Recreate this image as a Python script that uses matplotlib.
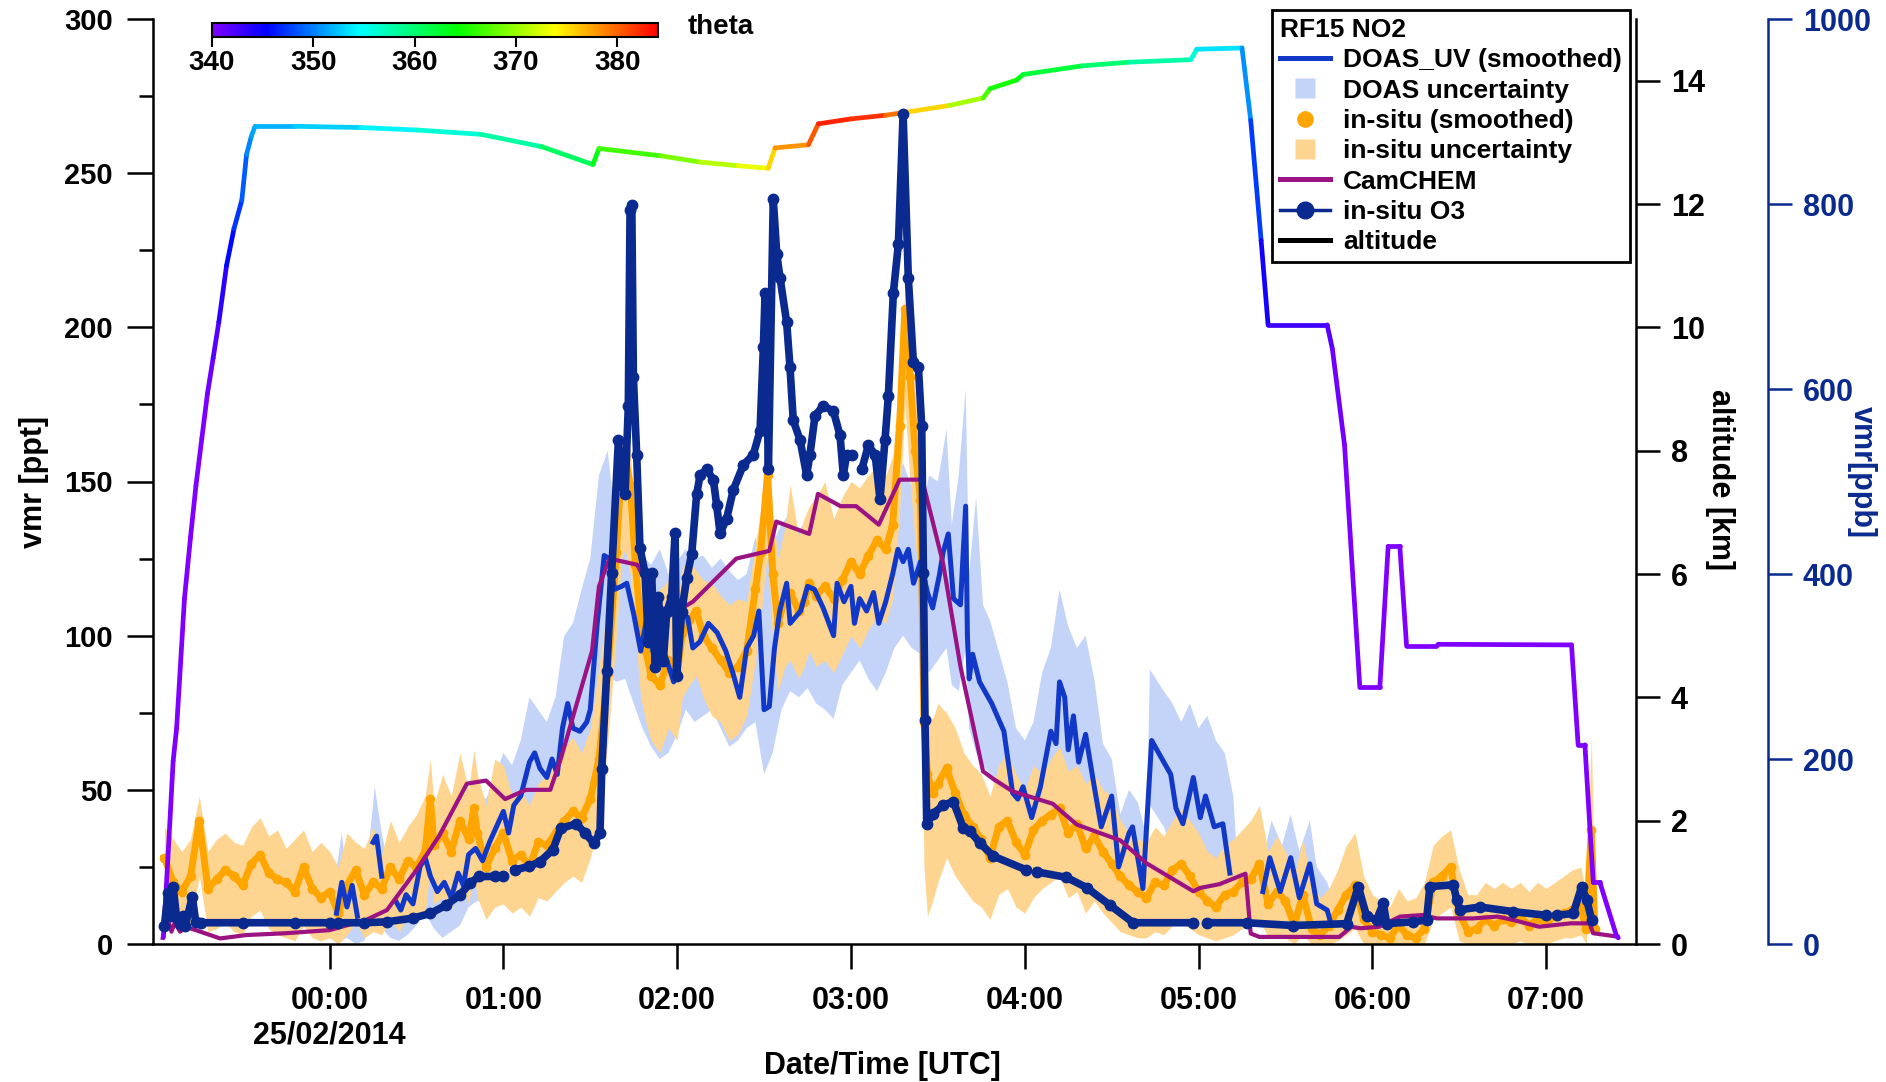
import numpy as np
import matplotlib
matplotlib.use('Agg')
import matplotlib.pyplot as plt
from matplotlib.collections import LineCollection
from matplotlib.colors import LinearSegmentedColormap, Normalize
from matplotlib.lines import Line2D
import matplotlib.cm as cm

plt.rcParams['font.family'] = ['Liberation Sans', 'DejaVu Sans']
plt.rcParams['font.weight'] = 'bold'

nan = np.nan

# time axis: hours after 00:00 UTC, 25/02/2014
hour_ticks = [0, 1, 2, 3, 4, 5, 6, 7]
hour_labels = ['00:00\n25/02/2014', '01:00', '02:00', '03:00', '04:00', '05:00', '06:00', '07:00']
theta_ticks = [340, 350, 360, 370, 380]

# in-situ NO2 (smoothed) and its uncertainty range [ppt]
insitu_t = [-0.95, -0.90, -0.85, -0.80, -0.75, -0.70, -0.65, -0.60, -0.55, -0.50,
            -0.45, -0.40, -0.35, -0.30, -0.25, -0.20, -0.15, -0.10, -0.05, 0.00,
            0.05, 0.10, 0.15, 0.20, 0.25, 0.30, 0.35, 0.40, 0.45, 0.50,
            0.55, 0.58, 0.60, 0.65, 0.70, 0.75, 0.80, 0.83, 0.85, 0.90,
            0.95, 1.00, 1.05, 1.10, 1.15, 1.20, 1.25, 1.30, 1.35, 1.40,
            1.45, 1.50, 1.55, 1.60, 1.65, 1.68, 1.70, 1.73, 1.76, 1.79,
            1.82, 1.85, 1.90, 1.95, 2.00, 2.03, 2.07, 2.11, 2.15, 2.20,
            2.25, 2.30, 2.35, 2.40, 2.45, 2.48, 2.52, 2.55, 2.58, 2.62,
            2.65, 2.70, 2.73, 2.76, 2.80, 2.85, 2.90, 2.95, 3.00, 3.05,
            3.10, 3.15, 3.20, 3.24, 3.28, 3.31, 3.34, 3.37, 3.40, 3.42,
            3.44, 3.47, 3.50, 3.55, 3.60, 3.65, 3.70, 3.75, 3.80, 3.85,
            3.90, 3.95, 4.00, 4.05, 4.10, 4.15, 4.20, 4.25, 4.30, 4.35,
            4.40, 4.45, 4.50, 4.55, 4.60, 4.65, 4.70, 4.75, 4.80, 4.85,
            4.90, 4.95, 5.00, 5.05, 5.10, 5.15, 5.20, 5.25, 5.30, 5.35,
            5.40, 5.45, 5.50, 5.55, 5.60, 5.65, 5.70, 5.75, 5.80, 5.85,
            5.90, 5.95, 6.00, 6.05, 6.10, 6.15, 6.20, 6.25, 6.30, 6.35,
            6.40, 6.45, 6.50, 6.55, 6.60, 6.65, 6.70, 6.75, 6.80, 6.85,
            6.90, 6.95, 7.00, 7.05, 7.10, 7.15, 7.20, 7.23, 7.26, 7.28]
insitu_ppt = [28, 20, 17, 22, 40, 18, 21, 24, 22, 19,
              26, 29, 23, 21, 20, 17, 25, 18, 15, 17,
              10, 19, 24, 16, 20, 18, 25, 21, 27, 25,
              30, 47, 32, 36, 30, 40, 34, 44, 36, 25,
              31, 36, 27, 29, 25, 33, 32, 36, 40, 43,
              41, 47, 60, 88, 127, 155, 158, 149, 123, 104,
              95, 87, 84, 92, 88, 101, 105, 108, 100, 96,
              92, 88, 90, 95, 115, 127, 152, 120, 104, 112,
              114, 108, 111, 117, 113, 116, 112, 118, 124, 120,
              126, 131, 128, 136, 168, 206, 184, 160, 144, 72,
              55, 49, 52, 57, 49, 42, 38, 34, 28, 38,
              40, 33, 29, 37, 40, 42, 44, 36, 39, 31,
              35, 30, 26, 22, 19, 17, 15, 20, 19, 24,
              26, 22, 17, 14, 12, 16, 17, 20, 21, 26,
              13, 17, 14, 6, 16, 5, 3, 6, 11, 16,
              19, 8, 4, 3, 2, 6, 3, 2, 5, 20,
              22, 25, 10, 4, 5, 8, 6, 8, 7, 9,
              6, 8, 7, 9, 10, 11, 12, 5, 37, 5]
insitu_lo = [14, 8, 4, 6, 22, 4, 5, 7, 4, 3,
             9, 11, 5, 3, 2, 1, 6, 2, 1, 2,
             0, 3, 7, 2, 4, 3, 8, 4, 9, 7,
             10, 25, 13, 15, 11, 20, 13, 23, 15, 8,
             12, 13, 10, 12, 9, 15, 14, 17, 20, 22,
             20, 28, 38, 65, 100, 125, 128, 120, 100, 80,
             72, 66, 62, 70, 66, 80, 84, 87, 80, 74,
             72, 66, 68, 74, 92, 105, 128, 98, 82, 90,
             92, 86, 90, 95, 90, 92, 88, 94, 100, 96,
             102, 106, 104, 112, 140, 175, 150, 130, 115, 25,
             9, 14, 20, 28, 22, 18, 14, 12, 8, 16,
             18, 12, 10, 15, 18, 20, 22, 15, 17, 10,
             14, 10, 7, 4, 3, 2, 2, 4, 3, 6,
             8, 5, 3, 2, 1, 2, 3, 5, 6, 8,
             2, 3, 2, 0, 3, 0, 0, 0, 1, 3,
             5, 0, 0, 0, 0, 0, 0, 0, 0, 8,
             10, 12, 1, 0, 0, 0, 0, 0, 0, 1,
             0, 0, 0, 1, 2, 2, 3, 0, 20, 0]
insitu_hi = [38, 34, 30, 34, 48, 30, 34, 36, 33, 32,
             38, 41, 35, 37, 31, 34, 37, 30, 33, 30,
             25, 36, 33, 31, 38, 29, 40, 33, 38, 42,
             48, 60, 45, 55, 48, 62, 50, 63, 55, 45,
             60, 58, 48, 50, 45, 52, 55, 60, 64, 67,
             62, 70, 90, 110, 145, 162, 165, 160, 135, 120,
             112, 108, 115, 118, 110, 122, 125, 121, 118, 117,
             113, 110, 112, 111, 130, 140, 171, 140, 125, 135,
             149, 132, 138, 142, 145, 150, 138, 145, 150, 148,
             152, 155, 152, 158, 185, 212, 200, 178, 160, 100,
             75, 73, 78, 75, 70, 62, 58, 55, 48, 58,
             62, 55, 50, 58, 55, 60, 64, 56, 58, 52,
             55, 50, 48, 40, 36, 34, 33, 38, 35, 40,
             44, 40, 36, 30, 28, 32, 34, 37, 40, 45,
             30, 35, 30, 22, 34, 20, 15, 18, 24, 32,
             36, 22, 16, 14, 12, 18, 14, 15, 20, 32,
             35, 37, 24, 16, 16, 20, 18, 20, 18, 20,
             17, 20, 18, 20, 22, 24, 25, 16, 68, 12]

# DOAS_UV NO2 (smoothed) [ppt], nan = no data
doas_t = [0.04, 0.07, 0.10, 0.13, 0.16, 0.19,
          0.25, 0.27, 0.30, 0.33,
          0.38, 0.41, 0.44, 0.48, 0.52, 0.55, 0.58, 0.62, 0.66, 0.70,
          0.74, 0.77, 0.80, 0.84, 0.88, 0.92, 0.96, 1.00, 1.03, 1.06,
          1.10, 1.15, 1.18, 1.21, 1.25, 1.28, 1.31, 1.34, 1.37, 1.40,
          1.44, 1.48, 1.50, 1.54, 1.58, 1.61, 1.64, 1.68, 1.71, 1.75,
          1.79, 1.83, 1.86, 1.90, 1.94, 1.98, 2.02, 2.06, 2.09, 2.13,
          2.18, 2.23, 2.28, 2.32, 2.36, 2.40, 2.44, 2.47, 2.50, 2.53,
          2.56, 2.59, 2.63, 2.65, 2.71, 2.75, 2.79, 2.84, 2.90, 2.92,
          2.96, 3.00, 3.02, 3.05, 3.09, 3.13, 3.16, 3.20, 3.24, 3.27,
          3.30, 3.33, 3.36, 3.40, 3.44, 3.47, 3.51, 3.53, 3.56, 3.59,
          3.63, 3.66, 3.67, 3.68, 3.70, 3.74, 3.81, 3.88, 3.93, 3.96,
          3.99, 4.04, 4.09, 4.13, 4.15, 4.18, 4.20, 4.23, 4.25, 4.28,
          4.31, 4.35, 4.40, 4.44, 4.50, 4.54, 4.60, 4.62, 4.68, 4.73,
          4.84, 4.87, 4.91, 4.97, 5.01, 5.04, 5.09, 5.14, 5.18, 5.25,
          5.37, 5.41, 5.47, 5.53, 5.58, 5.64, 5.68, 5.74, 5.76]
doas_ppt = [10, 20, 12, 19, 9, nan,
            33, 35, 22, nan,
            14, 11, 16, 13, 25, 28, 22, 17, 20, 15,
            23, 19, 29, 31, 27, 33, 38, 43, 36, 45,
            48, 59, 62, 57, 54, 60, 55, 70, 78, 70,
            69, 72, 76, 104, 126, 125, 115, 116, 117, 107,
            95, 107, 95, 99, 92, 85, 107, 106, 96, 98,
            104, 101, 95, 88, 80, 96, 100, 108, 76, 77,
            96, 108, 117, 104, 108, 116, 115, 109, 100, 117,
            111, 116, 104, 112, 108, 114, 104, 111, 120, 128,
            124, 128, 117, 124, 114, 109, 120, 127, 133, 112,
            110, 142, 100, 86, 94, 85, 78, 69, 49, 47,
            51, 41, 51, 63, 69, 65, 85, 80, 63, 74,
            59, 68, 51, 38, 48, 25, 36, 38, 18, 66,
            55, 44, 39, 54, 41, 48, 38, 39, 23, nan,
            17, 28, 17, 28, 15, 26, 13, 11, 7]

# DOAS uncertainty range [ppt]
doas_band_t = [0.00, 0.05, 0.07, 0.10, 0.15, 0.20, 0.25, 0.26, 0.30, 0.35,
               0.40, 0.45, 0.50, 0.55, 0.60, 0.65, 0.70, 0.75, 0.80, 0.85,
               0.90, 0.95, 1.00, 1.05, 1.10, 1.15, 1.20, 1.25, 1.30, 1.35,
               1.40, 1.45, 1.50, 1.55, 1.60, 1.65, 1.70, 1.75, 1.80, 1.85,
               1.90, 1.95, 2.00, 2.05, 2.10, 2.15, 2.20, 2.25, 2.30, 2.35,
               2.40, 2.45, 2.50, 2.55, 2.60, 2.65, 2.70, 2.75, 2.80, 2.85,
               2.90, 2.95, 3.00, 3.05, 3.10, 3.15, 3.20, 3.25, 3.30, 3.35,
               3.40, 3.45, 3.50, 3.55, 3.58, 3.62, 3.66, 3.68, 3.72, 3.76,
               3.80, 3.85, 3.90, 3.95, 4.00, 4.05, 4.10, 4.15, 4.20, 4.25,
               4.30, 4.35, 4.40, 4.45, 4.50, 4.55, 4.60, 4.65, 4.70, 4.72,
               4.80, 4.85, 4.90, 4.95, 5.00, 5.05, 5.10, 5.15, 5.20, 5.22,
               5.25, 5.33, 5.38, 5.42, 5.48, 5.53, 5.58, 5.64, 5.68, 5.74,
               5.77]
doas_lo = [2, 0, 1, 2, 0, 1, 8, 12, 5, 2,
           1, 3, 6, 10, 5, 2, 4, 6, 12, 14,
           13, 20, 24, 20, 28, 35, 32, 30, 35, 45,
           46, 48, 55, 70, 87, 85, 86, 78, 70, 64,
           60, 62, 68, 76, 72, 74, 76, 70, 64, 66,
           70, 72, 55, 62, 76, 82, 80, 83, 78, 76,
           73, 84, 88, 92, 86, 82, 88, 96, 100, 96,
           94, 88, 92, 96, 84, 82, 96, 70, 62, 58,
           55, 48, 40, 30, 28, 26, 38, 48, 60, 50,
           44, 48, 38, 24, 30, 14, 22, 20, 8, 45,
           38, 30, 26, 36, 28, 30, 24, 24, 12, 8,
           nan, 6, 5, 14, 8, 16, 5, 14, 4, 3,
           2]
doas_hi = [14, 28, 36, 22, 25, 18, 45, 51, 36, 22,
           25, 20, 33, 40, 35, 38, 30, 36, 45, 50,
           47, 54, 62, 58, 66, 80, 76, 72, 80, 100,
           104, 115, 125, 152, 160, 135, 136, 130, 126, 123,
           128, 120, 124, 128, 125, 126, 122, 125, 121, 118,
           120, 132, 122, 130, 136, 140, 134, 138, 132, 136,
           128, 140, 136, 138, 134, 138, 142, 150, 156, 148,
           138, 152, 150, 167, 136, 152, 180, 120, 145, 110,
           105, 95, 85, 70, 66, 72, 88, 96, 115, 103,
           96, 100, 86, 65, 60, 42, 50, 46, 35, 89,
           82, 78, 72, 78, 70, 74, 66, 62, 48, 30,
           nan, 28, 30, 40, 32, 42, 30, 40, 25, 20,
           15]

# CamCHEM model NO2 [ppt]
cam_t = [-0.96, -0.935, -0.91, -0.89, -0.86, -0.83, -0.77, -0.63, -0.48, -0.25,
         0.00, 0.21, 0.33, 0.50, 0.63, 0.79, 0.90, 1.01, 1.13, 1.27,
         1.33, 1.51, 1.55, 1.61, 1.77, 1.90, 2.00, 2.09, 2.34, 2.53,
         2.57, 2.76, 2.81, 2.94, 3.03, 3.16, 3.28, 3.41, 3.53, 3.63,
         3.76, 3.82, 3.93, 4.16, 4.30, 4.55, 4.70, 4.97, 5.01, 5.12,
         5.27, 5.30, 5.35, 5.81, 5.88, 5.93, 6.04, 6.16, 6.29, 6.37,
         6.58, 6.72, 6.81, 6.96, 7.14, 7.25, 7.27, 7.41]
cam_ppt = [2, 9, 4, 7, 4, 5.6, 4.5, 1.8, 2.9, 3.5,
           4.5, 7.8, 11, 24, 35, 52, 53, 47, 50, 50,
           60, 95, 116, 125, 123, 109, 108, 111, 125, 127.5,
           137, 133, 146, 142, 142, 136, 150.6, 150.6, 123.5, 90,
           56, 53.5, 49.5, 45.5, 38.7, 33.6, 26.2, 17.1, 18.2, 19.4,
           22.8, 3.4, 2.3, 2.3, 5.6, 5.1, 5.6, 8.9, 9.4, 8.3,
           8.3, 8.9, 7.8, 5.6, 6.7, 6.7, 3.5, 2.4]

# in-situ O3 [ppb], nan = no data
o3_t = [-0.95, -0.93, -0.915, -0.90, -0.88, -0.86, -0.845, -0.83, -0.79, -0.77,
        -0.74, -0.50, -0.20, 0.00, 0.02, 0.05, 0.20, 0.33, 0.48, 0.58,
        0.67, 0.75, 0.81, 0.86, 0.95, 1.00, 1.03, 1.065, 1.15, 1.21,
        1.285, 1.33, 1.42, 1.47, 1.52, 1.556, 1.566, 1.595, 1.623, 1.662,
        1.681, 1.70, 1.719, 1.729, 1.739, 1.748, 1.767, 1.786, 1.815, 1.834,
        1.853, 1.873, 1.892, 1.92, 1.94, 1.968, 1.988, 1.997, 2.026, 2.055,
        2.084, 2.112, 2.132, 2.17, 2.208, 2.227, 2.247, 2.285, 2.323, 2.381,
        2.438, 2.477, 2.496, 2.506, 2.525, 2.553, 2.573, 2.592, 2.63, 2.649,
        2.668, 2.707, 2.745, 2.764, 2.793, 2.841, 2.899, 2.937, 2.956, 2.975,
        3.004, 3.03, 3.062, 3.10, 3.139, 3.167, 3.196, 3.215, 3.244, 3.273,
        3.30, 3.33, 3.359, 3.388, 3.407, 3.417, 3.426, 3.436, 3.474, 3.53,
        3.589, 3.647, 3.685, 3.742, 3.819, 4.01, 4.04, 4.068, 4.24, 4.356,
        4.49, 4.624, 4.97, 5.00, 5.05, 5.276, 5.545, 5.852, 5.919, 5.967,
        6.024, 6.063, 6.082, 6.235, 6.312, 6.331, 6.466, 6.485, 6.504, 6.619,
        6.811, 7.002, 7.03, 7.06, 7.156, 7.204, 7.233, 7.262]
o3_ppb = [20, 55, 30, 62, 28, 22, 30, 20, 51, 24,
          23, 23, 23, 23, nan, 23, 23, 24, 28, 33,
          42, 53, 66, 73, 73, 73, nan, 80, 84, 89,
          102, 125, 130, 120, 109, 120, 189, 295, 401, 545,
          497, 486, 582, 794, 799, 613, 529, 428, 401, 327,
          401, 300, 375, 306, 359, 375, 444, 290, 359, 396,
          422, 486, 507, 513, 502, 475, 444, 460, 491, 518,
          529, 555, 645, 704, 513, 805, 746, 720, 672, 624,
          566, 545, 507, 529, 571, 582, 576, 550, 507, 529,
          529, nan, 513, 539, 529, 481, 545, 592, 704, 757,
          897, 720, 629, 624, 560, 401, 242, 130, 141, 150,
          154, 125, 122, 109, 95, 80, nan, 78, 72, 61,
          42, 23, 23, nan, 23, 23, 20, 22, 62, 30,
          26, 44, 22, 24, 26, 62, 64, 48, 37, 40,
          35, 31, nan, 31, 33, 62, 48, 26]

# aircraft altitude [km] and potential temperature theta [K]
alt_t = [-0.956, -0.93, -0.90, -0.88, -0.835, -0.80, -0.769, -0.735, -0.703, -0.67,
         -0.637, -0.593, -0.55, -0.505, -0.478, -0.45, -0.429, -0.20, 0.18, 0.50,
         0.87, 1.22, 1.515, 1.55, 1.91, 2.131, 2.35, 2.524, 2.563, 2.755,
         2.812, 3.00, 3.20, 3.32, 3.57, 3.761, 3.80, 3.953, 3.99, 4.33,
         4.60, 4.955, 4.99, 5.25, 5.30, 5.36, 5.40, 5.74, 5.77, 5.84,
         5.928, 6.043, 6.091, 6.158, 6.197, 6.369, 6.38, 7.146, 7.184, 7.223,
         7.252, 7.271, 7.309, 7.405, 7.415]
alt_km = [0.11, 1.4, 2.97, 3.5, 5.6, 6.6, 7.43, 8.2, 8.92, 9.5,
          10.09, 11.0, 11.6, 12.06, 12.8, 13.1, 13.26, 13.26, 13.24, 13.2,
          13.13, 12.93, 12.64, 12.9, 12.78, 12.68, 12.62, 12.58, 12.91, 12.96,
          13.30, 13.38, 13.44, 13.49, 13.6, 13.72, 13.87, 14.01, 14.1, 14.24,
          14.3, 14.34, 14.51, 14.53, 13.36, 11.41, 10.04, 10.04, 9.65, 8.09,
          4.16, 4.16, 6.45, 6.45, 4.83, 4.83, 4.86, 4.85, 3.23, 3.23,
          1.87, 1.0, 1.0, 0.13, 0.1]
theta_k = [340, 340, 340, 340, 340, 340, 340, 340, 340.5, 341,
           342.5, 344.5, 346.5, 348, 349.5, 351, 351.5, 352, 353.5, 355,
           357, 359, 362, 365, 368, 370, 372, 374, 377, 379,
           382, 383, 381, 378, 373, 368, 366, 364, 363, 361,
           359, 357, 355, 352, 349, 346, 343, 342.5, 341, 340.5,
           340, 340, 340, 340, 340, 340, 340, 340, 340, 340,
           340, 340, 340, 340, 340]

doas_color = '#1238c8'
doas_band_color = '#c4d3f8'
insitu_color = '#ffa500'
insitu_band_color = '#fed590'
cam_color = '#9b1282'
o3_color = '#0b2a8f'

theta_cmap = LinearSegmentedColormap.from_list(
    'theta', [(0.0, '#8000ff'), (0.12, '#0000ff'), (0.33, '#00ffff'),
              (0.55, '#00ff00'), (0.77, '#ffff00'), (1.0, '#ff0000')])
theta_norm = Normalize(340, 384)

W, H = 1886, 1082
fig = plt.figure(figsize=(W / 100, H / 100), dpi=100)
ax = fig.add_axes([153 / W, 1 - 944 / H, (1636 - 153) / W, (944 - 19) / H])

# NO2 on the left axis
ax.fill_between(doas_band_t, doas_lo, doas_hi, color=doas_band_color, lw=0)
ax.fill_between(insitu_t, insitu_lo, insitu_hi, color=insitu_band_color, lw=0)
ax.plot(insitu_t, insitu_ppt, color=insitu_color, lw=5, marker='o', ms=7, mec='none')
ax.plot(doas_t, doas_ppt, color=doas_color, lw=3.6)
ax.plot(cam_t, cam_ppt, color=cam_color, lw=3)

ax.set_xlim(-1.016, 7.517)
ax.set_ylim(0, 300)
ax.set_xticks(hour_ticks)
ax.set_xticklabels(hour_labels)
ax.set_yticks(np.arange(0, 301, 50))
ax.set_yticks(np.arange(25, 300, 50), minor=True)
ax.spines['top'].set_visible(False)
ax.spines['right'].set_visible(False)
for s in ['left', 'bottom']:
    ax.spines[s].set_linewidth(1.8)
ax.tick_params(axis='y', which='major', length=19, width=1.8, labelsize=21, pad=10)
ax.tick_params(axis='y', which='minor', length=10, width=1.8)
ax.tick_params(axis='x', length=18, width=1.8, labelsize=22, pad=12)

# altitude coloured by theta
ax_alt = ax.twinx()
pts = np.column_stack([alt_t, alt_km])
segs = np.stack([pts[:-1], pts[1:]], axis=1)
th = np.array(theta_k)
lc = LineCollection(segs, cmap=theta_cmap, norm=theta_norm, linewidths=3.4, capstyle='round')
lc.set_array((th[:-1] + th[1:]) / 2)
ax_alt.add_collection(lc)
ax_alt.set_ylim(0, 15)
ax_alt.set_yticks([0, 2, 4, 6, 8, 10, 12, 14])
for s in ['top', 'left', 'bottom']:
    ax_alt.spines[s].set_visible(False)
ax_alt.spines['right'].set_linewidth(1.8)
ax_alt.tick_params(axis='y', length=17, width=1.8, labelsize=22, pad=8)

# ozone on an offset third axis
ax_o3 = ax.twinx()
ax_o3.plot(o3_t, o3_ppb, color=o3_color, lw=5.5, marker='o', ms=7.5, mec=o3_color)
ax_o3.set_ylim(0, 1000)
ax_o3.set_yticks([0, 200, 400, 600, 800, 1000])
for s in ['top', 'left', 'bottom']:
    ax_o3.spines[s].set_visible(False)
ax_o3.spines['right'].set_position(('axes', 1 + 132 / 1483))
ax_o3.spines['right'].set_color(o3_color)
ax_o3.spines['right'].set_linewidth(1.8)
ax_o3.tick_params(axis='y', length=17, width=1.8, labelsize=22, pad=8,
                  colors=o3_color)

# axis titles
fig.text(34 / W, 1 - 482 / H, 'vmr [ppt]', rotation=90, ha='center', va='center', fontsize=22)
fig.text(882 / W, 1 - 1066 / H, 'Date/Time [UTC]', ha='center', va='center', fontsize=22)
fig.text(1720 / W, 1 - 480 / H, 'altitude [km]', rotation=-90, ha='center', va='center', fontsize=22)
fig.text(1862 / W, 1 - 472 / H, 'vmr[ppb]', rotation=-90, ha='center', va='center',
         fontsize=22, color=o3_color)

# theta colour bar
cax = fig.add_axes([212 / W, 1 - 37 / H, 446 / W, 14 / H])
sm = cm.ScalarMappable(norm=theta_norm, cmap=theta_cmap)
cb = fig.colorbar(sm, cax=cax, orientation='horizontal', ticks=theta_ticks)
cb.outline.set_linewidth(1.5)
cax.tick_params(length=7, width=1.5, labelsize=20, pad=2)
fig.text(688 / W, 1 - 27 / H, 'theta', ha='left', va='center', fontsize=20)

# legend
handles = [
    Line2D([], [], color=doas_color, lw=3.6),
    Line2D([], [], ls='none', marker='s', ms=15, mfc=doas_band_color, mec='none'),
    Line2D([], [], ls='none', marker='o', ms=12, mfc=insitu_color, mec='none'),
    Line2D([], [], ls='none', marker='s', ms=15, mfc=insitu_band_color, mec='none'),
    Line2D([], [], color=cam_color, lw=3.6),
    Line2D([], [], color=o3_color, lw=2.5, marker='o', ms=12),
    Line2D([], [], color='black', lw=3.6),
]
labels = ['DOAS_UV (smoothed)', 'DOAS uncertainty', 'in-situ (smoothed)',
          'in-situ uncertainty', 'CamCHEM', 'in-situ O3', 'altitude']
leg = fig.legend(handles, labels, loc='upper right', bbox_to_anchor=(1630 / W, 1 - 10 / H),
                 title='RF15 NO2', alignment='left', fontsize=19,
                 title_fontproperties={'weight': 'bold', 'size': 19},
                 frameon=True, fancybox=False, edgecolor='black', framealpha=1,
                 handlelength=1.9, handletextpad=0.5, labelspacing=0.24,
                 borderpad=0.3, borderaxespad=0)
leg.get_frame().set_linewidth(2)

fig.savefig('out.png', dpi=100)
